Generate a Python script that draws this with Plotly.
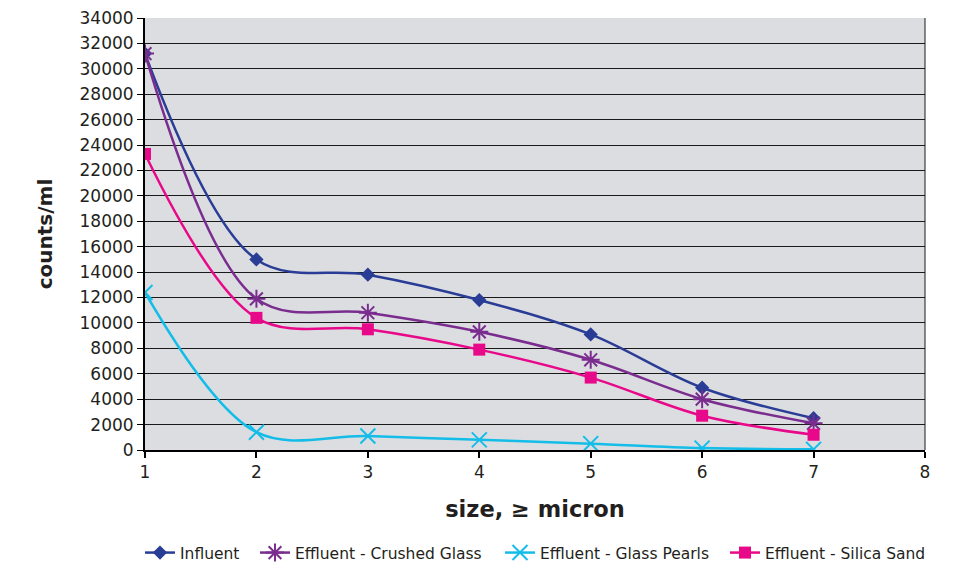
import plotly.graph_objects as go

sizes = [1, 2, 3, 4, 5, 6, 7]
influent = [31200, 15000, 13800, 11800, 9100, 4900, 2500]
crushed_glass = [31200, 11900, 10800, 9300, 7100, 4000, 2100]
glass_pearls = [12400, 1400, 1100, 800, 500, 150, 50]
silica_sand = [23300, 10400, 9500, 7900, 5700, 2700, 1200]

y_ticks = list(range(0, 34001, 2000))
x_ticks = list(range(1, 9))

series = [
    ("Influent", influent, "#2a3d96", "diamond", 11, 0, "legend", 140),
    ("Effluent - Crushed Glass", crushed_glass, "#7a2d8e", "asterisk-open", 15, 2, "legend2", 255),
    ("Effluent - Glass Pearls", glass_pearls, "#14bde8", "x-thin-open", 15, 2, "legend3", 500),
    ("Effluent - Silica Sand", silica_sand, "#e8088a", "square", 12, 0, "legend4", 725),
]

L, R, T, B = 145, 33, 18, 114
W, H = 958, 564
pw = W - L - R
ph = H - T - B

fig = go.Figure()
legends = {}
for name, vals, col, sym, sz, lw, leg, lx in series:
    fig.add_trace(go.Scatter(
        x=sizes, y=vals, name=name, mode="lines+markers", legend=leg,
        line=dict(color=col, width=2.5, shape="spline", smoothing=1.0),
        marker=dict(symbol=sym, size=sz, color=col,
                    line=dict(color=col, width=lw)),
    ))
    legends[leg] = dict(orientation="h", x=(lx - L) / pw, xanchor="left",
                        y=(T + ph - 553) / ph, yanchor="middle",
                        font=dict(size=15.5), bgcolor="rgba(0,0,0,0)")

fig.update_layout(
    width=W, height=H,
    margin=dict(l=L, r=R, t=T, b=B, autoexpand=False),
    paper_bgcolor="white",
    plot_bgcolor="#dcdde0",
    font=dict(family="DejaVu Sans, sans-serif", size=17, color="#231f20"),
    showlegend=True,
    **legends,
)
fig.update_xaxes(
    range=[1, 8], tickvals=x_ticks, showgrid=False, zeroline=False,
    showline=True, linecolor="black", linewidth=2, automargin=False,
    ticks="outside", ticklen=6, tickcolor="black", tickwidth=2,
    title=dict(text="<b>size, ≥ micron</b>", font=dict(size=22.5), standoff=20),
)
fig.update_yaxes(
    range=[0, 34000], tickvals=y_ticks, tickformat="d", showgrid=True,
    gridcolor="#1a1a1a", gridwidth=1, automargin=False,
    zeroline=False, showline=True, linecolor="black", linewidth=2,
    ticks="outside", ticklen=6, tickcolor="black", tickwidth=1,
    title=dict(text="<b>counts/ml</b>", font=dict(size=20), standoff=22),
)
fig.add_shape(type="line", xref="paper", yref="paper", x0=1, x1=1, y0=0, y1=1,
              line=dict(color="#1a1a1a", width=1))

fig.write_html("out.html", config={"displayModeBar": False},
               post_script="document.body.style.margin='0px';")
